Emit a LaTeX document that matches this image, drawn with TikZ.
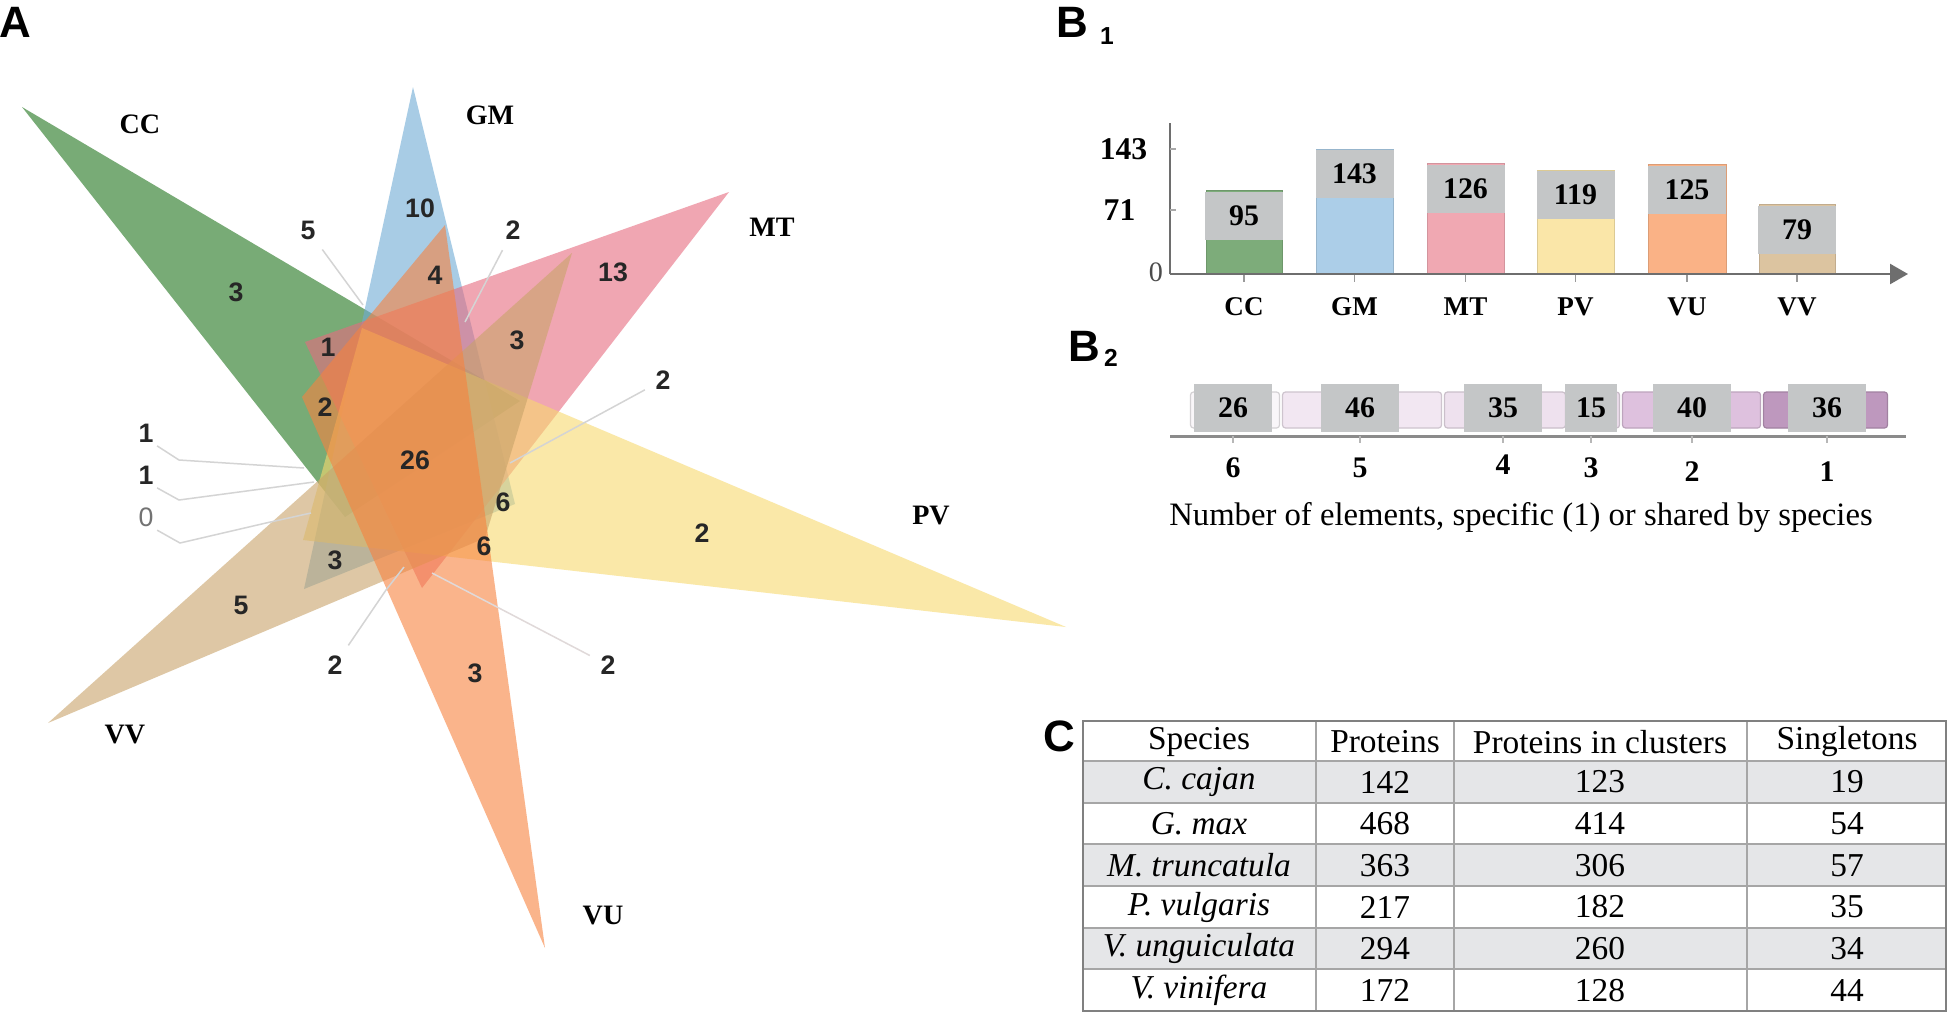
\documentclass[tikz,border=0pt]{standalone}
\usepackage{fontspec}
\setmainfont{Liberation Serif}
\newfontfamily\sansf{Liberation Sans}
\usetikzlibrary{arrows.meta}

% set colours (Venn, drawn with opacity)
\definecolor{ccset}{RGB}{31,115,27}
\definecolor{gmset}{RGB}{110,170,213}
\definecolor{mtset}{RGB}{230,107,127}
\definecolor{pvset}{RGB}{247,217,110}
\definecolor{vuset}{RGB}{247,130,63}
\definecolor{vvset}{RGB}{200,163,105}
% bar colours
\definecolor{ccbar}{RGB}{125,172,122}
\definecolor{gmbar}{RGB}{172,206,232}
\definecolor{mtbar}{RGB}{240,168,178}
\definecolor{pvbar}{RGB}{250,230,168}
\definecolor{vubar}{RGB}{250,178,134}
\definecolor{vvbar}{RGB}{220,196,160}
\definecolor{boxgrey}{RGB}{196,198,199}
\definecolor{rowgrey}{RGB}{229,230,232}
\definecolor{axisgrey}{RGB}{110,110,110}
% shared-by bands
\definecolor{shsix}{RGB}{249,246,249}
\definecolor{shfive}{RGB}{242,231,242}
\definecolor{shfour}{RGB}{238,225,238}
\definecolor{shthree}{RGB}{234,220,234}
\definecolor{shtwo}{RGB}{222,193,222}
\definecolor{shone}{RGB}{190,152,190}

\tikzset{
  venn/.style={fill opacity=0.6, draw=none},
  cnt/.style={font=\sansf\bfseries\fontsize{7.6}{8}\selectfont, text=black!85, inner sep=0.3mm},
  cntlight/.style={font=\sansf\fontsize{7.6}{8}\selectfont, text=black!55, inner sep=0.3mm},
  setname/.style={font=\bfseries\fontsize{8}{8}\selectfont, inner sep=0},
  leader/.style={draw=black!17, line width=0.15mm},
  panel/.style={font=\sansf\bfseries\fontsize{12.5}{12.5}\selectfont, inner sep=0},
  panelsub/.style={font=\sansf\bfseries\fontsize{7}{7}\selectfont, inner sep=0},
  valbox/.style={fill=boxgrey, minimum width=7.8mm, minimum height=4.8mm, inner sep=0,
    font=\bfseries\fontsize{8.5}{8.5}\selectfont},
  xlbl/.style={font=\bfseries\fontsize{7.7}{7.7}\selectfont, inner sep=0},
  ticklbl/.style={font=\bfseries\fontsize{9}{9}\selectfont, inner sep=0},
  cell/.style={font=\fontsize{9.5}{10}\selectfont, inner sep=0}
}

\begin{document}
\begin{tikzpicture}[x=0.1mm, y=-0.1mm]
  \useasboundingbox[fill=white] (0,0) rectangle (1947,1012);

  % ---------------- A : six-set Venn ----------------
  % Draw triangles
  \coordinate (cc1) at (22,107);   \coordinate (cc2) at (520,401);  \coordinate (cc3) at (345,517);
  \coordinate (gm1) at (413,87);   \coordinate (gm2) at (515,504);  \coordinate (gm3) at (304,589);
  \coordinate (mt1) at (729,192);  \coordinate (mt2) at (305,342);  \coordinate (mt3) at (422,588);
  \coordinate (pv1) at (1066,627); \coordinate (pv2) at (362,328);  \coordinate (pv3) at (303,540);
  \coordinate (vu1) at (545,948);  \coordinate (vu2) at (302,397);  \coordinate (vu3) at (445,225);
  \coordinate (vv1) at (48,723);   \coordinate (vv2) at (572,253);  \coordinate (vv3) at (485,538);

  \fill[venn, ccset] (cc1) -- (cc2) -- (cc3) -- cycle;
  \fill[venn, gmset] (gm1) -- (gm2) -- (gm3) -- cycle;
  \fill[venn, mtset] (mt1) -- (mt2) -- (mt3) -- cycle;
  \fill[venn, pvset] (pv1) -- (pv2) -- (pv3) -- cycle;
  \fill[venn, vvset] (vv1) -- (vv2) -- (vv3) -- cycle;
  \fill[venn, vuset] (vu1) -- (vu2) -- (vu3) -- cycle;

  % Draw set names
  \node[setname] (nCC) at (140,124) {CC};
  \node[setname] (nGM) at (490,115) {GM};
  \node[setname] (nMT) at (772,227) {MT};
  \node[setname] (nPV) at (931,515) {PV};
  \node[setname] (nVV) at (125,734) {VV};
  \node[setname] (nVU) at (603,915) {VU};

  % Draw region counts
  \node[cnt] (r3cc) at (236,292) {3};
  \node[cnt] (r10) at (420,208) {10};
  \node[cnt] (r5a) at (308,230) {5};
  \node[cnt] (r2t) at (513,230) {2};
  \node[cnt] (r4) at (435,275) {4};
  \node[cnt] (r13) at (613,272) {13};
  \node[cnt] (r1) at (328,347) {1};
  \node[cnt] (r3r) at (517,340) {3};
  \node[cnt] (r2r) at (663,380) {2};
  \node[cnt] (r2l) at (325,407) {2};
  \node[cnt] (r26) at (415,460) {26};
  \node[cnt] (r6u) at (503,502) {6};
  \node[cnt] (r2pv) at (702,533) {2};
  \node[cnt] (r6d) at (484,546) {6};
  \node[cnt] (r3ll) at (335,560) {3};
  \node[cnt] (r5vv) at (241,605) {5};
  \node[cnt] (r2b) at (335,665) {2};
  \node[cnt] (r3vu) at (475,673) {3};
  \node[cnt] (r2d) at (608,665) {2};
  \node[cnt] (r1a) at (146,433) {1};
  \node[cnt] (r1b) at (146,475) {1};
  \node[cntlight] (r0) at (146,517) {0};

  % Draw leader lines
  \coordinate (p5a) at (363,305);
  \coordinate (p2t) at (465,322);
  \coordinate (p2r) at (510,463);
  \coordinate (k1a) at (179,460); \coordinate (p1a) at (304,468);
  \coordinate (k1b) at (179,500); \coordinate (p1b) at (314,482);
  \coordinate (k0a) at (180,543); \coordinate (k0b) at (266,523); \coordinate (p0) at (311,513);
  \coordinate (k2b) at (386,590); \coordinate (p2b) at (404,567);
  \coordinate (p2d) at (432,573);
  \draw[leader, shorten <=0.8mm] (r5a) -- (p5a);
  \draw[leader, shorten <=0.8mm] (r2t) -- (p2t);
  \draw[leader, shorten <=0.8mm] (r2r) -- (p2r);
  \draw[leader] (r1a.south east) -- (k1a) -- (p1a);
  \draw[leader] (r1b.south east) -- (k1b) -- (p1b);
  \draw[leader] (r0.south east) -- (k0a) -- (k0b) -- (p0);
  \draw[leader, shorten <=0.8mm] (r2b) -- (k2b) -- (p2b);
  \draw[leader, draw=red!20!black!15, shorten <=0.8mm] (r2d) -- (p2d);

  % Draw panel letters
  \node[panel] (pA) at (15,22) {A};
  \node[panel] (pB1) at (1072,22) {B};
  \node[panelsub] (pB1s) at (1107,36) {1};
  \node[panel] (pB2) at (1084,346) {B};
  \node[panelsub] (pB2s) at (1111,358) {2};
  \node[panel] (pC) at (1059,736) {C};

  % ---------------- B1 : bars ----------------
  \coordinate (orig) at (1170,274);
  \coordinate (yaxtop) at (1170,123);
  \coordinate (xaxend) at (1908,274);
  \foreach \nm/\xl/\xr/\val/\col in {CC/1206/1282/95/ccbar, GM/1316/1393/143/gmbar,
      MT/1427/1504/126/mtbar, PV/1537/1614/119/pvbar, VU/1648/1726/125/vubar, VV/1759/1835/79/vvbar}
  {
    \pgfmathsetmacro{\ytop}{274-0.874*\val}
    \pgfmathsetmacro{\xm}{(\xl+\xr)/2}
    \fill[\col, draw=\col!88!black, line width=0.1mm] (\xl,274) rectangle (\xr,\ytop);
    \node[valbox] (box\nm) at (\xm,\ytop+25) {\val};
    \node[xlbl] (lbl\nm) at (\xm,307) {\nm};
    \draw[axisgrey!70, line width=0.15mm] (\xm,274) -- (\xm,282);
  }
  \draw[axisgrey, line width=0.25mm] (orig) -- (yaxtop);
  \draw[axisgrey, line width=0.25mm, -{Triangle[length=1.8mm, width=2mm]}] (orig) -- (xaxend);
  \draw[axisgrey!60, line width=0.15mm] (1170,149) -- (1176,149);
  \draw[axisgrey!60, line width=0.15mm] (1170,210) -- (1176,210);
  \node[ticklbl, anchor=east] (t143) at (1148,149) {143};
  \node[ticklbl, anchor=east] (t71) at (1136,210) {71};
  \node[font=\fontsize{8}{8}\selectfont, text=black!70, inner sep=0] (t0) at (1156,272) {0};

  % ---------------- B2 : shared elements ----------------
  \foreach \xl/\xr/\shc in {1189/1281/shsix, 1281/1443/shfive, 1443/1567/shfour, 1567/1621/shthree,
      1621/1762/shtwo, 1762/1889/shone}
  {
    \fill[\shc, draw=\shc!85!black, line width=0.12mm, rounded corners=0.3mm]
      (\xl+1.5,392) rectangle (\xr-1.5,428);
  }
  \draw[axisgrey!80, line width=0.3mm] (1170,436) -- (1906,436);
  \foreach \xm/\bw/\val/\num/\ny in {1233/7.8/26/6/468, 1360/7.8/46/5/468, 1503/7.8/35/4/465,
      1591/5.2/15/3/468, 1692/7.8/40/2/472, 1827/7.8/36/1/472}
  {
    \node[valbox, minimum width=\bw mm] (sh\val) at (\xm,408) {\val};
    \draw[axisgrey!50, line width=0.15mm] (\xm,436) -- (\xm,443);
    \node[xlbl, font=\bfseries\fontsize{8.5}{8.5}\selectfont] (ns\num) at (\xm,\ny) {\num};
  }
  \node[font=\fontsize{9.3}{10}\selectfont, inner sep=0] (capB2) at (1521,518)
    {Number of elements, specific (1) or shared by species};

  % ---------------- C : table ----------------
  \foreach \i in {1,3,5}
    \fill[rowgrey] (1083,{761+41.67*(\i-1)}) rectangle (1946,{761+41.67*\i});
  \foreach \y in {761,802.7,844.3,886,927.7,969.3}
    \draw[black!35, line width=0.2mm] (1083,\y) -- (1946,\y);
  \foreach \x in {1316,1454,1747}
    \draw[black!35, line width=0.2mm] (\x,721) -- (\x,1011);
  \draw[black!50, line width=0.25mm] (1083,721) rectangle (1946,1011);

  \node[cell] (hSp) at (1199,742) {Species};
  \node[cell] (hPr) at (1385,742) {Proteins};
  \node[cell] (hPc) at (1600,742) {Proteins in clusters};
  \node[cell] (hSg) at (1847,742) {Singletons};
  \foreach \sp/\pr/\pc/\sg [count=\i] in {C. cajan/142/123/19, G. max/468/414/54,
      M. truncatula/363/306/57, P. vulgaris/217/182/35, V. unguiculata/294/260/34, V. vinifera/172/128/44}
  {
    \pgfmathsetmacro{\yc}{782+41.67*(\i-1)}
    \node[cell] (sp\i) at (1199,\yc) {\itshape \sp};
    \node[cell] (pr\i) at (1385,\yc) {\pr};
    \node[cell] (pc\i) at (1600,\yc) {\pc};
    \node[cell] (sg\i) at (1847,\yc) {\sg};
  }
\end{tikzpicture}
\end{document}
